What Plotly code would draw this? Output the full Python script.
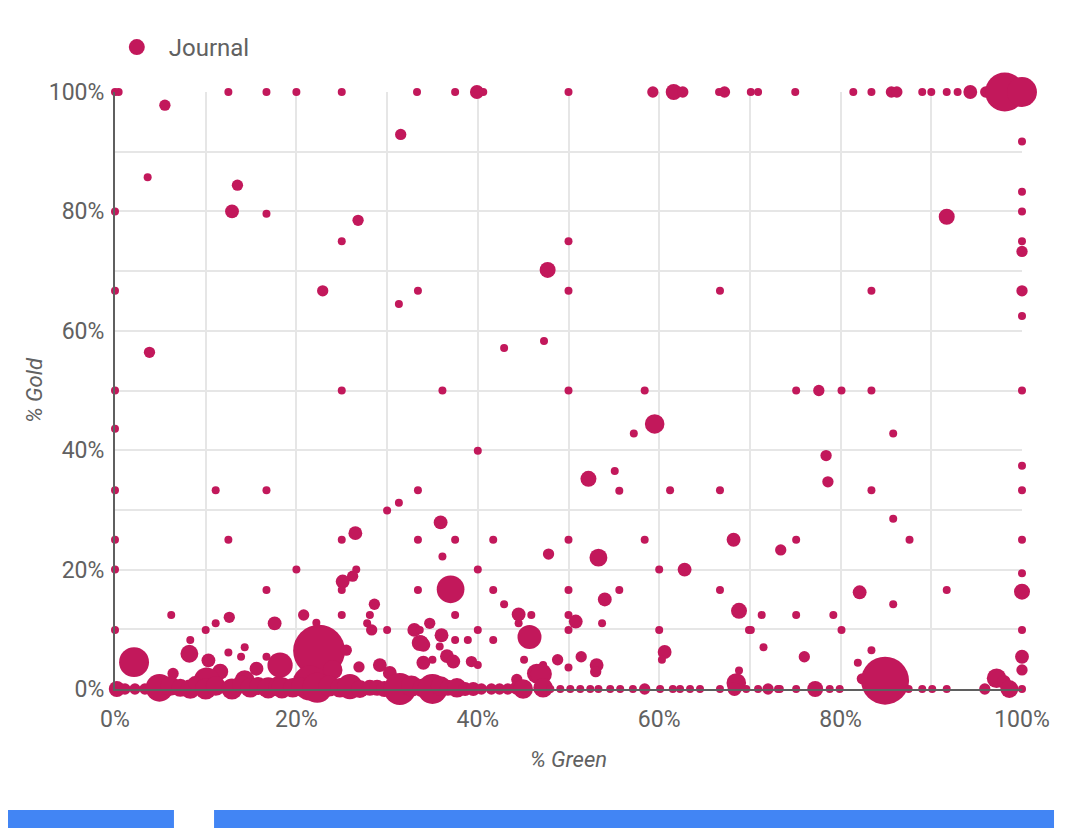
import plotly.graph_objects as go

# % Green (x), % Gold (y), article counts (bubble size)
green = [
    # top row
    0, 0.4, 12.5, 16.7, 20, 25, 33.3, 37.5, 39.9, 40.6, 50, 59.3, 61.6, 62.6, 66.6, 67.2, 70.1, 70.9, 75,
    81.4, 83.4, 85.6, 86.2, 89, 90, 91.7, 92.9, 94.3, 96, 96.8, 98.1, 100,
    # x = 0 column
    0, 0, 0, 0, 0, 0, 0, 0,
    # upper left
    5.5, 3.6, 13.5, 12.9, 16.7, 26.8, 25, 22.9, 31.3, 33.4, 31.5, 3.8, 25, 11.1, 16.7, 33.4, 30, 31.3,
    12.5, 25, 26.5, 33.4, 20, 26.6, 26.2, 25.1, 25, 16.7, 33.4,
    # middle
    42.9, 47.3, 36.1, 50, 58.4, 59.5, 57.2, 40, 52.2, 55.1, 55.6, 61.2, 66.7, 35.9, 37.5, 41.7, 50, 58.4,
    68.2, 36.1, 47.8, 53.3, 40, 60, 62.8, 37, 41.7, 50, 55.6, 54, 66.7, 50, 47.7, 50, 66.7, 83.4, 91.7,
    # right
    75.1, 77.6, 80.1, 83.4, 100, 85.8, 78.4, 78.6, 83.4, 100, 100, 85.8, 87.6, 100, 75.1, 73.4, 100,
    82.1, 91.7, 100, 100, 100, 100, 100, 100, 100, 100,
    # lower band left
    6.2, 10, 11.1, 12.6, 17.6, 20.8, 22.2, 25, 28.1, 28.6, 27.8, 28.3, 30, 33, 33.8, 8.3, 8.2, 2.1,
    12.5, 14.3, 13.9, 16.7, 18.2, 22.5, 26.9, 15.6, 10.3, 6.4, 25.5, 29.2, 24, 11.6, 14.3, 10.1, 21.5, 30.3,
    # lower band middle
    37.5, 44.5, 45.9, 44.5, 50, 50.8, 50, 53.7, 60, 68.8, 69.9, 34.7, 33.6, 36, 34, 35.8, 37.5, 38.9,
    40, 41.7, 45.7, 36.6, 37.3, 35, 39.3, 40, 45.1, 47.2, 48.8, 51.4, 50, 53.1, 53, 60.6, 60.3, 68.8,
    68.5, 46.5, 44.3, 42.9, 47, 33.6, 34,
    # lower band right
    71.3, 75.1, 79.2, 70.1, 80.1, 100, 71.5, 76, 83.4, 81.9, 100, 100, 82.4, 84.9, 85.8, 97.2, 98, 98.6,
    # bottom row
    0.2, 1.1, 2.2, 3.3, 4.9, 6.1, 7.2, 8.3, 8.8, 10, 11.1, 12.9, 13.9, 14.9, 15.8, 16.9, 18, 18.4, 19.6,
    20.4, 22.3, 23.6, 24.8, 25.9, 27, 28.1, 28.9, 29.7, 31.4, 32.7, 33.8, 35, 35.9, 36.7, 37.7, 38.6,
    39.5, 40.4, 41.5, 42.4, 43.3, 44.3, 45, 47.2, 48, 49.1, 50.2, 51.3, 52.4, 53.3, 54.6, 55.7, 57.1,
    58.4, 60.1, 61.5, 62.3, 63.4, 64.5, 66.7, 68.3, 69.6, 70.9, 72, 73.1, 73.3, 75.1, 77.2, 78.8, 79.9,
    87.5, 89, 90.1, 91.7, 95.9, 100,
]
gold = [
    # top row
    100, 100, 100, 100, 100, 100, 100, 100, 100, 100, 100, 100, 100, 100, 100, 100, 100, 100, 100,
    100, 100, 100, 100, 100, 100, 100, 100, 100, 100, 100, 100, 100,
    # x = 0 column
    80, 66.7, 50, 43.6, 33.3, 25, 20, 9.9,
    # upper left
    97.8, 85.7, 84.4, 80, 79.6, 78.5, 75, 66.7, 64.5, 66.7, 92.9, 56.4, 50, 33.3, 33.3, 33.3, 29.9, 31.2,
    25, 25, 26.1, 25, 20, 20, 18.9, 18, 16.6, 16.6, 16.6,
    # middle
    57.1, 58.3, 50, 50, 50, 44.4, 42.8, 39.9, 35.2, 36.5, 33.2, 33.3, 33.3, 27.9, 25, 25, 25, 25,
    25, 22.2, 22.6, 22, 20, 20, 20, 16.7, 16.6, 16.6, 16.6, 15, 16.6, 75, 70.2, 66.7, 66.7, 66.7, 79.1,
    # right
    50, 50, 50, 50, 50, 42.8, 39.1, 34.7, 33.3, 37.4, 33.3, 28.5, 25, 25, 25, 23.3, 19.4,
    16.2, 16.6, 16.3, 91.7, 83.3, 80, 75, 73.3, 66.7, 62.5,
    # lower band left
    12.4, 9.9, 11, 12, 11, 12.4, 11.1, 12.4, 12.4, 14.2, 11, 9.9, 9.9, 9.9, 7.8, 8.2, 5.9, 4.5,
    6.1, 7, 5.4, 5.4, 4, 6.4, 3.7, 3.4, 4.8, 2.6, 6.5, 4, 3.2, 2.9, 1.5, 1.5, 1, 2.7,
    # lower band middle
    12.4, 12.5, 12.4, 11, 12.4, 11.3, 9.9, 11, 9.9, 13.1, 9.9, 11, 9.9, 9, 7.4, 7.1, 8.2, 8.2,
    9.9, 8.2, 8.7, 5.5, 4.6, 4.9, 4.6, 4, 4.9, 4, 4.9, 5.4, 3.6, 4, 2.9, 6.2, 4.9, 3.1,
    1, 2.6, 1.6, 14.2, 2.5, 7.7, 4.4,
    # lower band right
    12.4, 12.4, 12.4, 9.9, 9.9, 9.9, 7, 5.4, 6.5, 4.4, 5.4, 3.2, 1.7, 1.4, 14.2, 1.8, 1.2, 0,
    # bottom row
    0, 0, 0, 0, 0.2, 0.5, 0.2, 0, 1, 0, 0.5, 0, 0.8, 0.2, 0.5, 0.2, 0.5, 0.2, 0.2,
    0.5, 0.2, 0.5, 0.2, 0.4, 0, 0.2, 0.2, 0, 0, 0.5, 0.2, 0, 0.5, 0.2, 0.2, 0,
    0, 0, 0, 0, 0, 0.2, 0, 0.2, 0, 0, 0, 0, 0, 0, 0, 0, 0,
    0, 0, 0, 0, 0, 0, 0, 0, 0, 0, 0, 0, 0, 0, 0, 0, 0,
    0, 0, 0, 0, 0, 0,
]
articles = [
    # top row
    1, 1, 1, 1, 1, 1, 1, 1, 3, 1, 1, 2, 4, 2, 1, 2, 1, 1, 1,
    1, 1, 2, 2, 1, 1, 1, 1, 3, 2, 1, 24, 14,
    # x = 0 column
    1, 1, 1, 1, 1, 1, 1, 1,
    # upper left
    2, 1, 2, 3, 1, 2, 1, 2, 1, 1, 2, 2, 1, 1, 1, 1, 1, 1,
    1, 1, 3, 1, 1, 1, 2, 3, 1, 1, 1,
    # middle
    1, 1, 1, 1, 1, 6, 1, 1, 4, 1, 1, 1, 1, 3, 1, 1, 1, 1,
    3, 1, 2, 5, 1, 1, 3, 12, 1, 1, 1, 3, 1, 1, 4, 1, 1, 1, 4,
    # right
    1, 2, 1, 1, 1, 1, 2, 2, 1, 1, 1, 1, 1, 1, 1, 2, 1,
    3, 1, 4, 1, 1, 1, 1, 2, 2, 1,
    # lower band left
    1, 1, 1, 2, 3, 2, 1, 1, 1, 2, 1, 2, 1, 3, 3, 1, 5, 14,
    1, 1, 1, 1, 10, 42, 2, 3, 3, 2, 2, 3, 6, 4, 6, 10, 19, 3,
    # lower band middle
    1, 3, 1, 1, 1, 3, 1, 1, 1, 4, 1, 2, 1, 3, 3, 1, 1, 1,
    1, 1, 9, 3, 3, 1, 2, 1, 1, 1, 2, 2, 1, 3, 2, 3, 1, 1,
    6, 6, 2, 1, 7, 4, 3,
    # lower band right
    1, 1, 1, 1, 1, 1, 1, 2, 1, 1, 3, 2, 2, 36, 1, 6, 3, 5,
    # bottom row
    4, 2, 2, 2, 12, 6, 5, 6, 3, 7, 6, 7, 5, 6, 5, 7, 6, 7, 6,
    5, 14, 7, 6, 10, 5, 4, 4, 4, 16, 7, 5, 14, 6, 4, 6, 3,
    3, 2, 2, 2, 2, 3, 6, 6, 1, 1, 1, 1, 1, 1, 1, 1, 1,
    2, 1, 1, 1, 1, 1, 1, 3, 1, 1, 2, 1, 1, 1, 4, 1, 1,
    1, 1, 1, 1, 2, 1,
]

x_ticks = [0, 20, 40, 60, 80, 100]
x_tick_labels = ["0%", "20%", "40%", "60%", "80%", "100%"]
y_ticks = [0, 20, 40, 60, 80, 100]
y_tick_labels = ["0%", "20%", "40%", "60%", "80%", "100%"]

ACCENT = "#C2185B"
TEXT = "#616161"
GRID = "#e6e6e6"

fig = go.Figure()
fig.add_trace(go.Scatter(
    x=green, y=gold, mode="markers", name="Journal", showlegend=False,
    marker=dict(size=articles, sizemode="area", sizeref=1 / 32, sizemin=4,
                color=ACCENT, opacity=1, line=dict(width=0)),
    cliponaxis=False,
))
# legend entry
fig.add_trace(go.Scatter(
    x=[None], y=[None], mode="markers", name="\u00a0\u00a0Journal", showlegend=True,
    marker=dict(size=18, color=ACCENT, opacity=1, line=dict(width=0)),
))

axis_common = dict(
    range=[0, 100], showgrid=True, gridcolor=GRID, gridwidth=1.5,
    zeroline=False, showline=True, linecolor="#5f5f5f", linewidth=2,
    tickfont=dict(family="Roboto", size=23, color=TEXT),
    minor=dict(dtick=10, showgrid=True, gridcolor=GRID, gridwidth=1.5),
    ticks="",
)

fig.update_layout(
    width=1070, height=828,
    margin=dict(l=107, r=56, t=84, b=147),
    paper_bgcolor="white", plot_bgcolor="white",
    font=dict(family="Roboto", color=TEXT),
    showlegend=True,
    legend=dict(x=0.002, xanchor="left", y=1.0746, yanchor="middle",
                orientation="h", itemsizing="trace",
                font=dict(family="Roboto", size=24, color=TEXT)),
    xaxis=dict(**axis_common, tickvals=x_ticks, ticktext=x_tick_labels,
               ticklabelstandoff=8,
               title=dict(text="<i>% Green</i>", standoff=20,
                          font=dict(family="Roboto", size=22, color=TEXT))),
    yaxis=dict(**axis_common, tickvals=y_ticks, ticktext=y_tick_labels,
               ticklabelstandoff=4,
               title=dict(text="<i>% Gold</i>", standoff=0,
                          font=dict(family="Roboto", size=22, color=TEXT))),
    shapes=[
        dict(type="rect", xref="paper", yref="paper", x0=-0.13, x1=0.065,
             y0=-0.26, y1=-0.2027, fillcolor="#4285F4", line=dict(width=0), layer="above"),
        dict(type="rect", xref="paper", yref="paper", x0=0.1092, x1=1.0353,
             y0=-0.26, y1=-0.2027, fillcolor="#4285F4", line=dict(width=0), layer="above"),
    ],
)

fig.write_html("out.html")
